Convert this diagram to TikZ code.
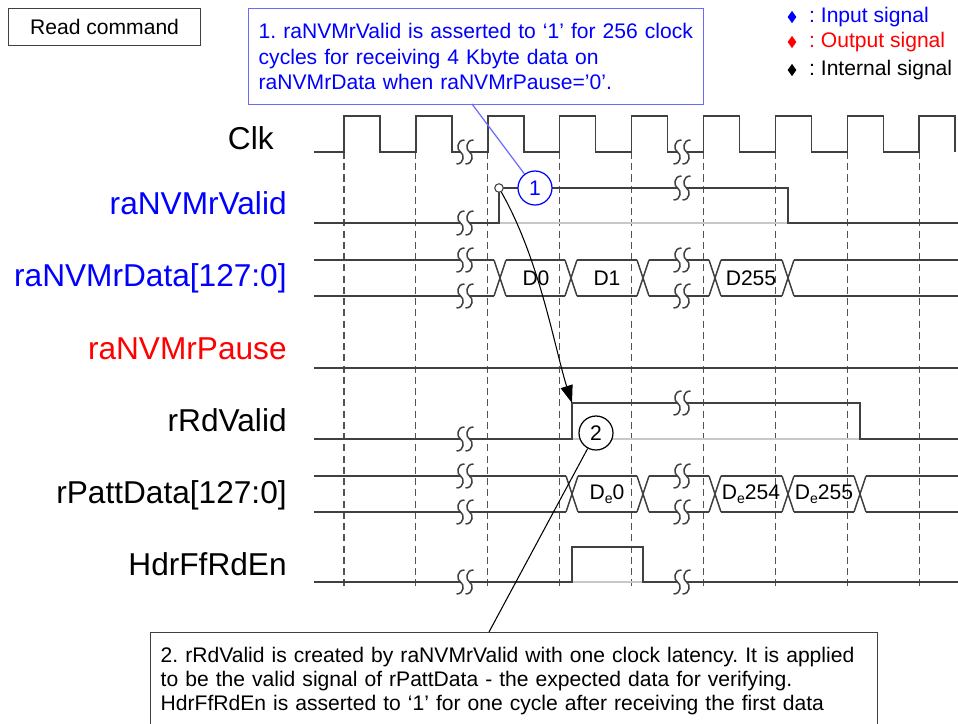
\documentclass[tikz,border=0pt]{standalone}
\usepackage{fontspec}
\setmainfont{Liberation Sans}
\usetikzlibrary{positioning, arrows.meta, shapes.geometric}
\definecolor{sigBlue}{HTML}{0000FF}
\definecolor{sigRed}{HTML}{FF0000}
\definecolor{waveGray}{HTML}{404040}
\definecolor{lowGray}{HTML}{C8C8C8}
\definecolor{noteBlue}{HTML}{6A6AFF}
\newcommand{\Dexp}{D\raisebox{-0.35ex}{\fontsize{8}{8}\selectfont e}}
\frenchspacing

\tikzset{
  brk/.pic={
    \fill[white] (-5,-3) rectangle (5,3);
    \foreach \dx in {-4.5,4.5}
      \draw[waveGray, line width=0.85pt, shift={(\dx,0)}]
        (4,-12) .. controls (-4,-12) and (-4,-2) .. (0,0)
        .. controls (4,2) and (4,12) .. (-4,12);
  }
}

\begin{document}
\begin{tikzpicture}[x=0.02cm, y=-0.02cm,
    wave/.style={draw=waveGray, line width=0.85pt},
    lowlvl/.style={draw=lowGray, line width=0.85pt},
    clkedge/.style={draw=waveGray!90, line width=0.65pt, dash pattern=on 4pt off 2.4pt},
    sig/.style={anchor=base east, inner sep=0pt, font=\fontsize{18}{20}\selectfont},
    val/.style={inner sep=0pt, font=\fontsize{12}{14}\selectfont},
    note/.style={draw, anchor=north west, align=left, inner xsep=0.2cm, line width=0.8pt, font=\fontsize{12}{14.4}\selectfont},
    callout/.style={circle, draw, fill=white, minimum size=0.68cm, inner sep=0pt, line width=0.7pt, font=\fontsize{12}{14}\selectfont},
    key/.style={diamond, inner sep=0pt, minimum width=0.18cm, minimum height=0.25cm},
    keytext/.style={inner sep=0pt, font=\fontsize{12}{14}\selectfont},
  ]
  \useasboundingbox (0,0) rectangle (958,724);
  \clip (0,0) rectangle (958,724);

  % clock edge grid
  \foreach \k in {0,...,8}
    \draw[clkedge] ({344+71.9*\k},152) -- ({344+71.9*\k},588);

  % signal names
  \node[sig] (lclk) at (274,149) {Clk};
  \node[sig, text=sigBlue] (lvalid) at (287,214) {raNVMrValid};
  \node[sig, text=sigBlue] (ldata) at (287,286) {raNVMrData[127:0]};
  \node[sig, text=sigRed] (lpause) at (287,359) {raNVMrPause};
  \node[sig] (lrdvalid) at (287,431) {rRdValid};
  \node[sig] (lpatt) at (287,503) {rPattData[127:0]};
  \node[sig] (lhdr) at (287,575) {HdrFfRdEn};

  % Clk
  \draw[wave] (314,152) \foreach \k in {0,...,8} {
    -- ({344+71.9*\k},152) -- ({344+71.9*\k},116) -- ({380+71.9*\k},116) -- ({380+71.9*\k},152)};
  \pic at (465,152) {brk};
  \pic at (682,152) {brk};

  % raNVMrValid
  \draw[lowlvl] (499,223) -- (788,223);
  \draw[wave] (314,223) -- (499,223) -- (499,188) -- (788,188) -- (788,223) -- (958,223);
  \pic at (465,223) {brk};
  \pic at (682,188) {brk};

  % raNVMrData
  \foreach \t in {500,571,643,715,788}
    \draw[wave] ({\t-6},260) -- ({\t+6},296) ({\t-6},296) -- ({\t+6},260);
  \foreach \a/\b in {314/494,506/565,577/637,649/709,721/782,794/958}
    \draw[wave] (\a,260) -- (\b,260) (\a,296) -- (\b,296);
  \foreach \y in {260,296} {
    \pic at (465,\y) {brk};
    \pic at (682,\y) {brk};
  }
  \node[val] (d0) at (536,278) {D0};
  \node[val] (d1) at (607,278) {D1};
  \node[val] (d255) at (751,278) {D255};

  % raNVMrPause
  \draw[wave] (314,368) -- (958,368);

  % rRdValid
  \draw[lowlvl] (572,439) -- (860,439);
  \draw[wave] (314,439) -- (572,439) -- (572,403) -- (860,403) -- (860,439) -- (958,439);
  \pic at (465,439) {brk};
  \pic at (682,403) {brk};

  % rPattData
  \foreach \t in {572,643,715,788,860}
    \draw[wave] ({\t-6},476) -- ({\t+6},512) ({\t-6},512) -- ({\t+6},476);
  \foreach \a/\b in {314/566,578/637,649/709,721/782,794/854,866/958}
    \draw[wave] (\a,476) -- (\b,476) (\a,512) -- (\b,512);
  \foreach \y in {476,512} {
    \pic at (465,\y) {brk};
    \pic at (682,\y) {brk};
  }
  \node[val] (p0) at (607,494) {\Dexp0};
  \node[val] (p254) at (751,494) {\Dexp254};
  \node[val] (p255) at (824,494) {\Dexp255};

  % HdrFfRdEn
  \draw[lowlvl] (572,582) -- (643,582);
  \draw[wave] (314,582) -- (572,582) -- (572,547) -- (643,547) -- (643,582) -- (958,582);
  \pic at (465,582) {brk};
  \pic at (682,582) {brk};

  % notes and callouts
  \node[draw=waveGray, anchor=north west, minimum width=3.84cm, minimum height=0.74cm, line width=0.7pt, font=\fontsize{12}{14}\selectfont] (cmd) at (8,8) {Read command};

  \node[note, draw=noteBlue, text=sigBlue, text width=8.7cm, minimum height=1.92cm] (note1) at (248,8)
    {1. raNVMrValid is asserted to `1' for 256 clock\\cycles for receiving 4 Kbyte data on\\raNVMrData when raNVMrPause='0'.};
  \node[callout, draw=sigBlue, text=sigBlue] (c1) at (535,188) {1};
  \node[circle, draw=waveGray, fill=white, minimum size=0.17cm, inner sep=0pt, line width=0.6pt] (dot) at (499,188) {};
  \coordinate (n1foot) at (472,104);
  \draw[noteBlue, line width=0.7pt] (n1foot) -- (c1);

  \coordinate (rdrise) at (572,403);
  \draw[line width=0.6pt, -{Triangle[length=10pt, width=7pt]}] (dot) .. controls (540,260) and (555,350) .. (rdrise);

  \node[callout, draw=black] (c2) at (596,433) {2};
  \node[note, draw=waveGray, text width=14.14cm, minimum height=1.92cm, font=\fontsize{12}{13.6}\selectfont] (note2) at (150,632)
    {2. rRdValid is created by raNVMrValid with one clock latency. It is applied\\to be the valid signal of rPattData - the expected data for verifying.\\HdrFfRdEn is asserted to `1' for one cycle after receiving the first data};
  \coordinate (n2foot) at (489,632);
  \draw[line width=0.6pt] (c2) -- (n2foot);

  % legend
  \node[key, fill=sigBlue] (kin) at (792,17) {};
  \node[keytext, text=sigBlue, right=0.24cm of kin] (tin) {: Input signal};
  \node[key, fill=sigRed] (kout) at (792,42) {};
  \node[keytext, text=sigRed, right=0.24cm of kout] (tout) {: Output signal};
  \node[key, fill=black] (kint) at (792,70) {};
  \node[keytext, right=0.24cm of kint] (tint) {: Internal signal};
\end{tikzpicture}
\end{document}
